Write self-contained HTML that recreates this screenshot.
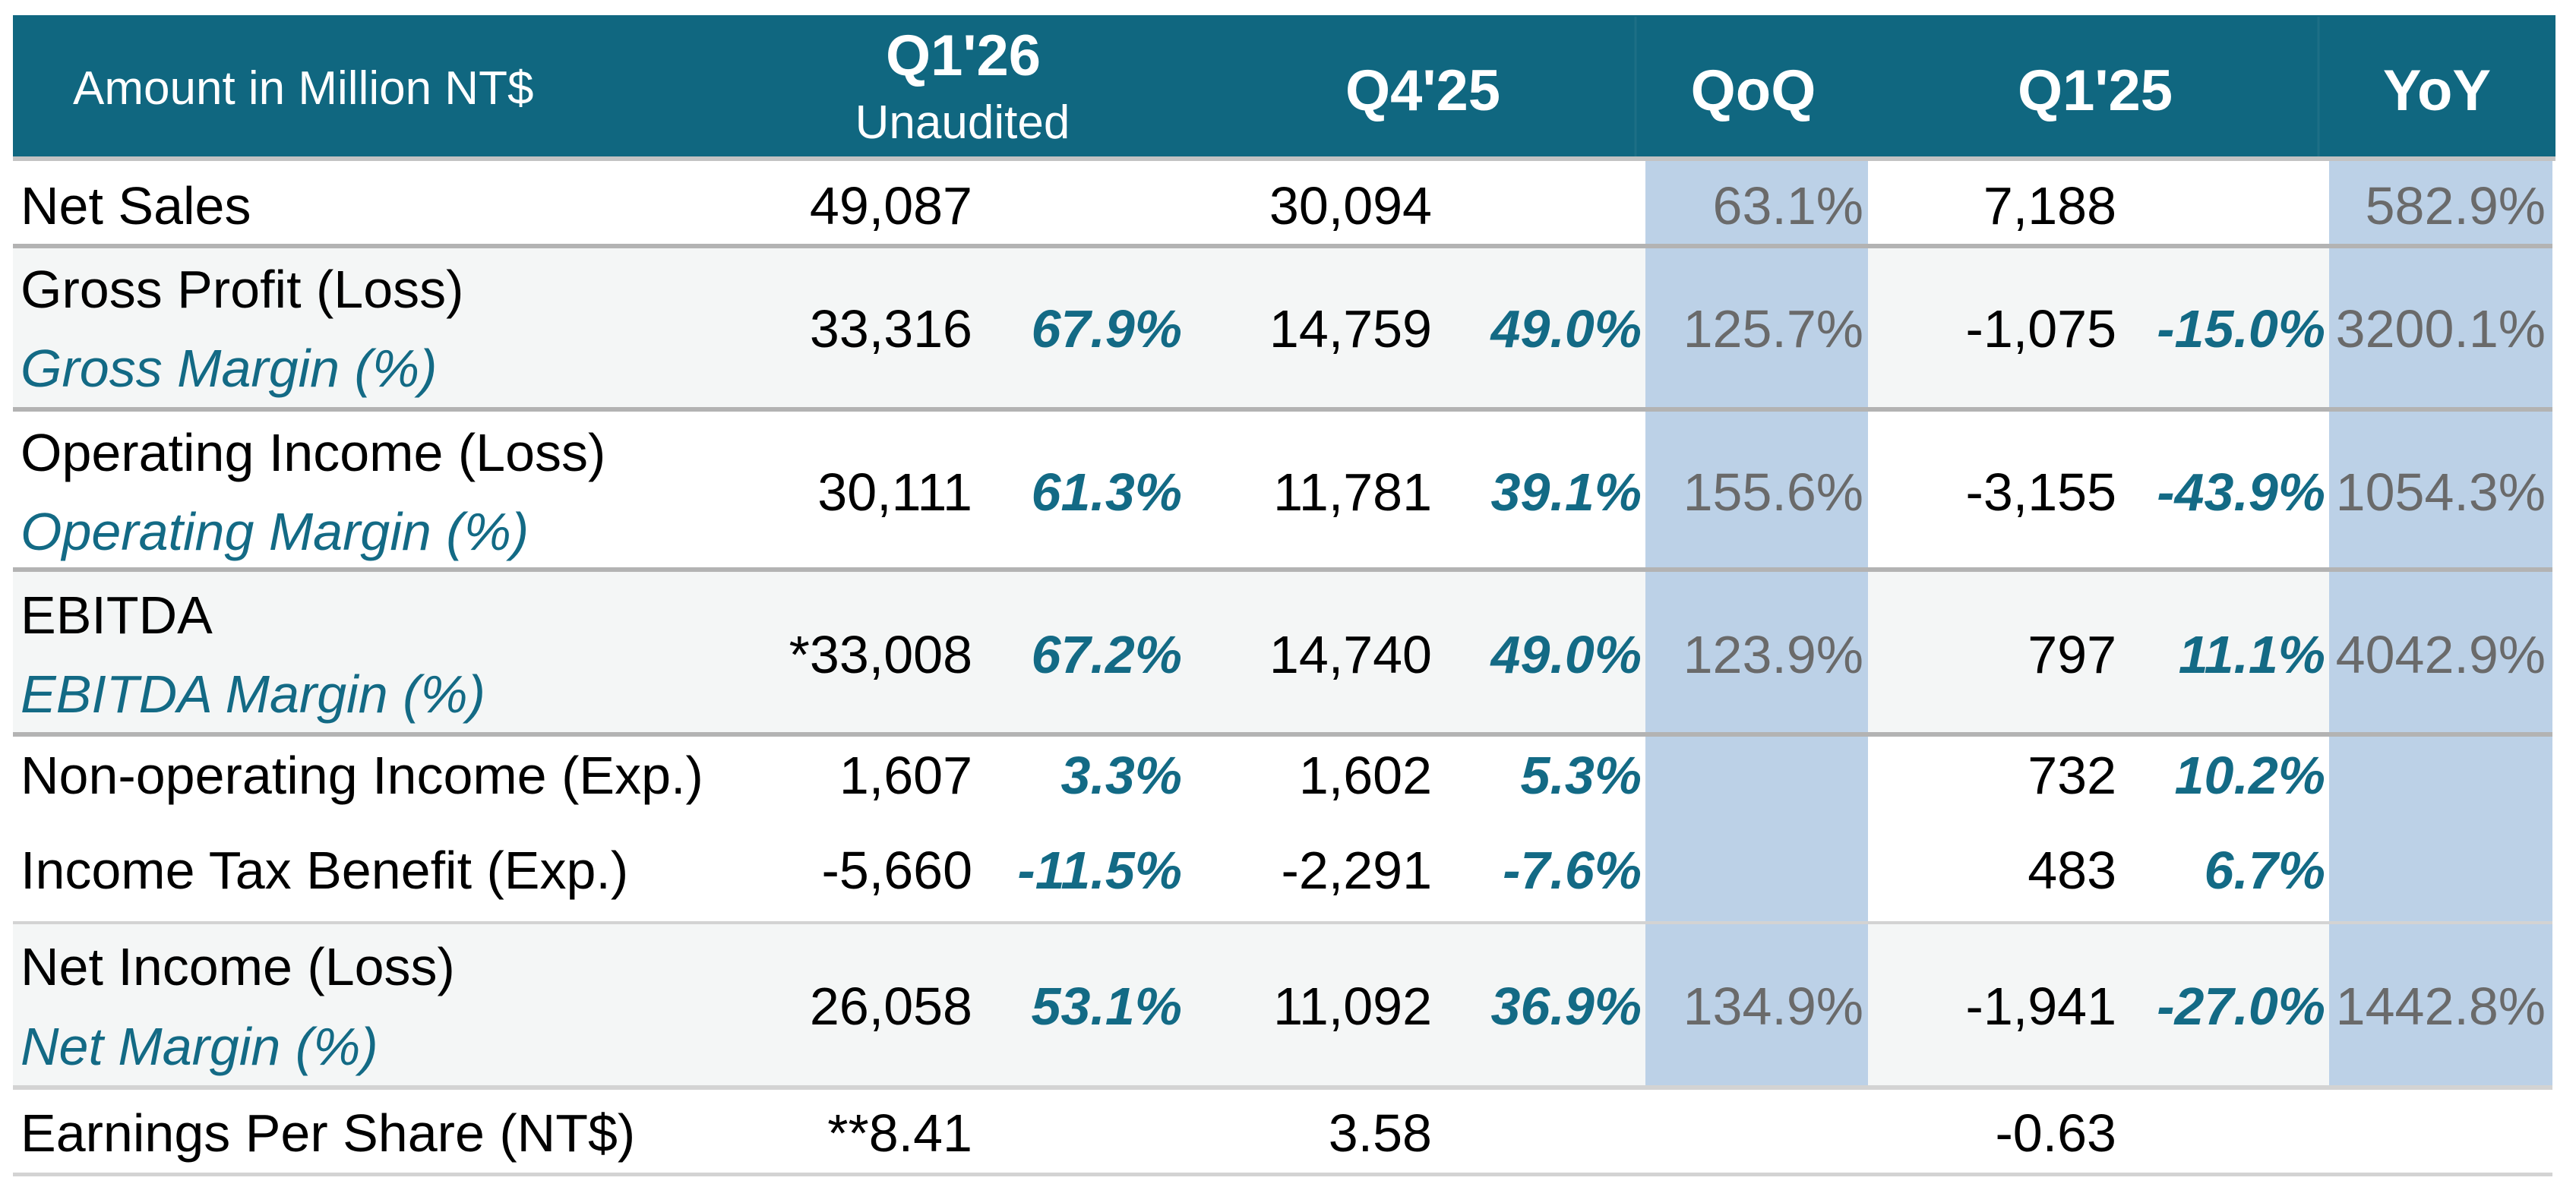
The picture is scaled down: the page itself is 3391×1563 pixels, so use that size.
<!DOCTYPE html>
<html><head><meta charset="utf-8"><style>
html,body{margin:0;padding:0;background:#fff;}
svg{display:block;}
text{font-family:"Liberation Sans",Arial,sans-serif;}
.l{font-size:70px;fill:#000;}
.m{font-size:70px;fill:#136a85;font-style:italic;}
.n{font-size:70px;fill:#000;text-anchor:end;}
.p{font-size:70px;fill:#136a85;font-style:italic;font-weight:bold;text-anchor:end;}
.g{font-size:70px;fill:#6a6a6a;text-anchor:end;}
.h{font-size:76px;fill:#fff;font-weight:bold;text-anchor:middle;}
</style></head><body>
<svg width="3391" height="1563" viewBox="0 0 3391 1563" xmlns="http://www.w3.org/2000/svg">
<rect width="3391" height="1563" fill="#fff"/>
<!-- header -->
<rect x="17" y="20" width="3347" height="187" fill="#106780"/>
<line x1="2153" y1="22" x2="2153" y2="206" stroke="#1d6f86" stroke-width="3"/>
<line x1="3052" y1="22" x2="3052" y2="206" stroke="#1d6f86" stroke-width="3"/>
<text x="96" y="137" style="font-size:62px;fill:#fff">Amount in Million NT$</text>
<text class="h" x="1268" y="99">Q1'26</text>
<text x="1267" y="182" style="font-size:62px;fill:#fff;text-anchor:middle">Unaudited</text>
<text class="h" x="1873" y="145">Q4'25</text>
<text class="h" x="2308" y="145">QoQ</text>
<text class="h" x="2758" y="145">Q1'25</text>
<text class="h" x="3208" y="145">YoY</text>
<!-- row backgrounds -->
<rect x="17" y="327" width="3343" height="209" fill="#f4f6f6"/>
<rect x="17" y="753" width="3343" height="215" fill="#f4f6f6"/>
<rect x="17" y="1217" width="3343" height="214" fill="#f4f6f6"/>
<!-- blue columns -->
<rect x="2166" y="212" width="293" height="1219" fill="#bcd1e7"/>
<rect x="3066" y="212" width="294" height="1219" fill="#bcd1e7"/>
<!-- lines -->
<rect x="17" y="206" width="3347" height="6" fill="#c3c3c3"/>
<rect x="17" y="321" width="3343" height="6" fill="#b3b3b3"/>
<rect x="17" y="536" width="3343" height="6" fill="#b3b3b3"/>
<rect x="17" y="747" width="3343" height="6" fill="#b3b3b3"/>
<rect x="17" y="964" width="3343" height="6" fill="#b3b3b3"/>
<rect x="17" y="1213" width="3343" height="4" fill="#d3d3d3"/>
<rect x="17" y="1429" width="3343" height="6" fill="#d3d3d3"/>
<rect x="17" y="1544" width="3343" height="5" fill="#d3d3d3"/>
<!-- Net Sales -->
<text class="l" x="27" y="295">Net Sales</text>
<text class="n" x="1280" y="295">49,087</text>
<text class="n" x="1885" y="295">30,094</text>
<text class="g" x="2453" y="295">63.1%</text>
<text class="n" x="2786" y="295">7,188</text>
<text class="g" x="3351" y="295">582.9%</text>
<!-- Gross -->
<text class="l" x="27" y="405">Gross Profit (Loss)</text>
<text class="m" x="27" y="509">Gross Margin (%)</text>
<text class="n" x="1280" y="457">33,316</text>
<text class="p" x="1556" y="457">67.9%</text>
<text class="n" x="1885" y="457">14,759</text>
<text class="p" x="2161" y="457">49.0%</text>
<text class="g" x="2453" y="457">125.7%</text>
<text class="n" x="2786" y="457">-1,075</text>
<text class="p" x="3061" y="457">-15.0%</text>
<text class="g" x="3351" y="457">3200.1%</text>
<!-- Operating -->
<text class="l" x="27" y="620">Operating Income (Loss)</text>
<text class="m" x="27" y="724">Operating Margin (%)</text>
<text class="n" x="1280" y="672">30,111</text>
<text class="p" x="1556" y="672">61.3%</text>
<text class="n" x="1885" y="672">11,781</text>
<text class="p" x="2161" y="672">39.1%</text>
<text class="g" x="2453" y="672">155.6%</text>
<text class="n" x="2786" y="672">-3,155</text>
<text class="p" x="3061" y="672">-43.9%</text>
<text class="g" x="3351" y="672">1054.3%</text>
<!-- EBITDA -->
<text class="l" x="27" y="834">EBITDA</text>
<text class="m" x="27" y="938">EBITDA Margin (%)</text>
<text class="n" x="1280" y="886">*33,008</text>
<text class="p" x="1556" y="886">67.2%</text>
<text class="n" x="1885" y="886">14,740</text>
<text class="p" x="2161" y="886">49.0%</text>
<text class="g" x="2453" y="886">123.9%</text>
<text class="n" x="2786" y="886">797</text>
<text class="p" x="3061" y="886">11.1%</text>
<text class="g" x="3351" y="886">4042.9%</text>
<!-- Non-op -->
<text class="l" x="27" y="1045">Non-operating Income (Exp.)</text>
<text class="n" x="1280" y="1045">1,607</text>
<text class="p" x="1556" y="1045">3.3%</text>
<text class="n" x="1885" y="1045">1,602</text>
<text class="p" x="2161" y="1045">5.3%</text>
<text class="n" x="2786" y="1045">732</text>
<text class="p" x="3061" y="1045">10.2%</text>
<!-- Tax -->
<text class="l" x="27" y="1170">Income Tax Benefit (Exp.)</text>
<text class="n" x="1280" y="1170">-5,660</text>
<text class="p" x="1556" y="1170">-11.5%</text>
<text class="n" x="1885" y="1170">-2,291</text>
<text class="p" x="2161" y="1170">-7.6%</text>
<text class="n" x="2786" y="1170">483</text>
<text class="p" x="3061" y="1170">6.7%</text>
<!-- Net income -->
<text class="l" x="27" y="1297">Net Income (Loss)</text>
<text class="m" x="27" y="1402">Net Margin (%)</text>
<text class="n" x="1280" y="1349">26,058</text>
<text class="p" x="1556" y="1349">53.1%</text>
<text class="n" x="1885" y="1349">11,092</text>
<text class="p" x="2161" y="1349">36.9%</text>
<text class="g" x="2453" y="1349">134.9%</text>
<text class="n" x="2786" y="1349">-1,941</text>
<text class="p" x="3061" y="1349">-27.0%</text>
<text class="g" x="3351" y="1349">1442.8%</text>
<!-- EPS -->
<text class="l" x="27" y="1516">Earnings Per Share (NT$)</text>
<text class="n" x="1280" y="1516">**8.41</text>
<text class="n" x="1885" y="1516">3.58</text>
<text class="n" x="2786" y="1516">-0.63</text>
</svg>
</body></html>
